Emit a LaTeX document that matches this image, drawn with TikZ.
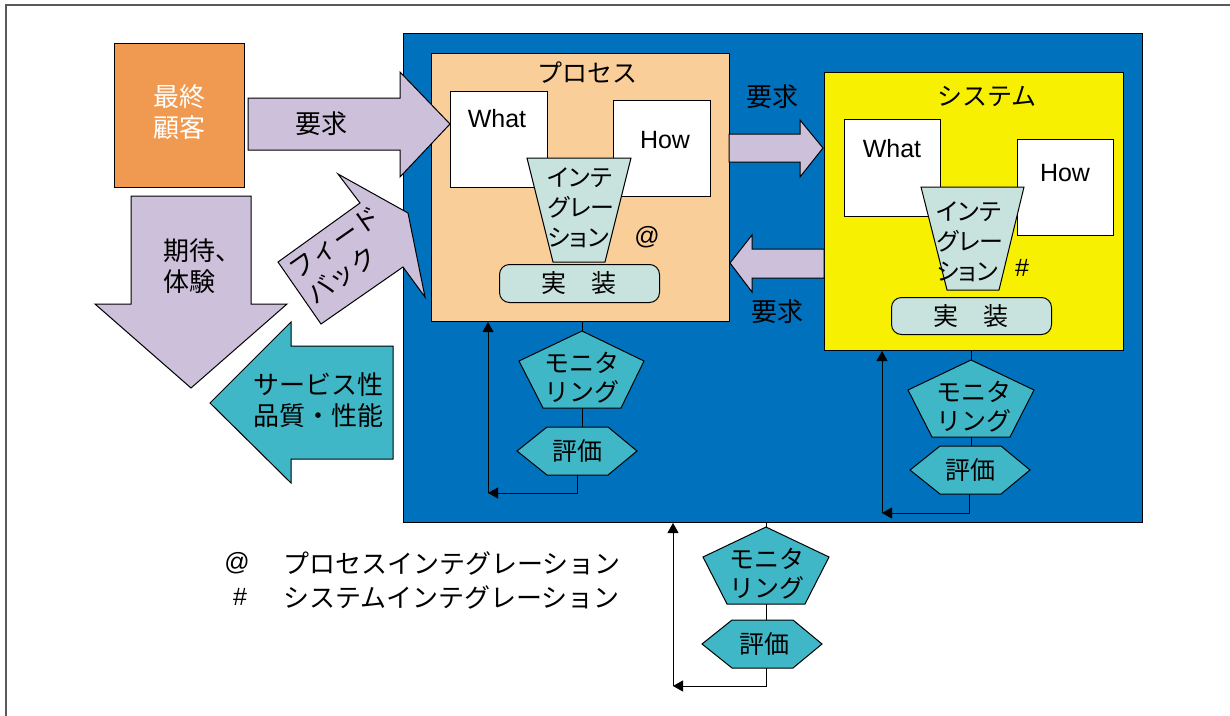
\documentclass[tikz,border=0pt]{standalone}
\usepackage{fontspec}
\setmainfont{Liberation Sans}
\newfontfamily\jp{Noto Sans CJK JP}
\newfontfamily\jpp[RawFeature=+palt]{Noto Sans CJK JP}
\usetikzlibrary{arrows.meta}
\definecolor{corange}{RGB}{240,153,80}
\definecolor{cpurple}{RGB}{204,192,218}
\definecolor{cteal}{RGB}{64,183,198}
\definecolor{cblue}{RGB}{0,113,188}
\definecolor{clorange}{RGB}{250,206,152}
\definecolor{cyellow}{RGB}{247,240,0}
\definecolor{clteal}{RGB}{200,227,221}
\begin{document}
\begin{tikzpicture}[x=1pt,y=-1pt,
  box/.style={draw=black, line width=1pt, anchor=north west, inner sep=0pt},
  jtxt/.style={font=\jp\fontsize{25}{29}\selectfont, align=center, inner sep=0pt},
  jbig/.style={font=\jp\fontsize{26}{31}\selectfont, align=center, inner sep=0pt},
  jsmall/.style={font=\jpp\fontsize{24}{30}\selectfont, align=left, inner sep=0pt},
  ltxt/.style={font=\fontsize{25}{29}\selectfont, inner sep=0pt},
  shapeline/.style={draw=black, line width=1pt, line join=miter},
  conn/.style={line width=1pt},
  loopar/.style={-{Triangle[length=10pt,width=11pt]}}]
\useasboundingbox (0,0) rectangle (1230,715);
\draw[line width=2pt, draw=black!65] (6,716) -- (6,5) -- (1231,5);

% organisation (blue)
\node[box, fill=cblue, minimum width=739pt, minimum height=489pt] (org) at (403,33) {};

% ---------- process ----------
\node[box, fill=clorange, minimum width=298pt, minimum height=268pt] (proc) at (431,53) {};
\node[jtxt] (proct) at (587,73) {プロセス};
\node[box, fill=white, minimum width=97pt, minimum height=96pt] (pwhat) at (450,91) {};
\node[ltxt] (pwhatt) at (497,119) {What};
\node[box, fill=white, minimum width=97pt, minimum height=96pt] (phow) at (613,100) {};
\node[ltxt] (phowt) at (665,140) {How};
\draw[shapeline, fill=clteal] (527,158) -- (631,158) -- (605,262) -- (553,262) -- cycle;
\node[jsmall] (pint) at (581,208) {インテ\\グレー\\ション};
\node[ltxt] (pat) at (647,237) {@};
\node[box, fill=clteal, rounded corners=10pt, minimum width=160pt, minimum height=38pt] (pimp) at (499,264) {};
\node[jtxt] (pimpt) at (579,283) {実　装};

\coordinate (p1top) at (582,331);
\coordinate (p1bot) at (582,408);
\coordinate (h1top) at (582,427);
\coordinate (h1bot) at (577,475);
\coordinate (l1) at (488,493);
\draw[conn] (p1top |- proc.south) -- (p1top);
\draw[shapeline, fill=cteal] (582,331) -- (644,361) -- (621,408) -- (543,408) -- (519,361) -- cycle;
\node[jtxt] (p1t) at (582,378) {モニタ\\リング};
\draw[conn] (p1bot) -- (h1top);
\draw[shapeline, fill=cteal] (517,451) -- (547,427) -- (608,427) -- (637,451) -- (608,475) -- (547,475) -- cycle;
\node[jtxt] (h1t) at (577,451) {評価};
\draw[conn, loopar] (h1bot) |- (l1);
\draw[conn, loopar] (l1) -- (l1 |- proc.south);

% ---------- system ----------
\node[box, fill=cyellow, minimum width=299pt, minimum height=278pt] (sys) at (824,72) {};
\node[jtxt] (syst) at (987,96) {システム};
\node[box, fill=white, minimum width=96pt, minimum height=97pt] (swhat) at (844,119) {};
\node[ltxt] (swhatt) at (892,149) {What};
\node[box, fill=white, minimum width=96pt, minimum height=96pt] (show) at (1017,139) {};
\node[ltxt] (showt) at (1065,173) {How};
\draw[shapeline, fill=clteal] (921,187) -- (1024,187) -- (999,290) -- (947,290) -- cycle;
\node[jsmall] (sint) at (970,242) {インテ\\グレー\\ション};
\node[ltxt] (shash) at (1022,268) {\#};
\node[box, fill=clteal, rounded corners=10pt, minimum width=160pt, minimum height=37pt] (simp) at (891,297) {};
\node[jtxt] (simpt) at (971,316) {実　装};

\coordinate (p2top) at (971,360);
\coordinate (p2bot) at (971,437);
\coordinate (h2top) at (971,446);
\coordinate (h2bot) at (969,494);
\coordinate (l2) at (882,513);
\draw[conn] (p2top |- sys.south) -- (p2top);
\draw[shapeline, fill=cteal] (971,360) -- (1034,390) -- (1010,437) -- (932,437) -- (908,390) -- cycle;
\node[jtxt] (p2t) at (974,407) {モニタ\\リング};
\draw[conn] (p2bot) -- (h2top);
\draw[shapeline, fill=cteal] (910,470) -- (940,446) -- (1001,446) -- (1030,470) -- (1001,494) -- (940,494) -- cycle;
\node[jtxt] (h2t) at (970,470) {評価};
\draw[conn, loopar] (h2bot) |- (l2);
\draw[conn, loopar] (l2) -- (l2 |- sys.south);

% requirement arrows between process and system
\draw[shapeline, fill=cpurple] (729,134) -- (800,134) -- (800,120) -- (823,148) -- (800,177) -- (800,162) -- (729,162) -- cycle;
\node[jbig] (req2) at (772,97) {要求};
\draw[shapeline, fill=cpurple] (824,249) -- (752,249) -- (752,235) -- (730,263) -- (752,292) -- (752,278) -- (824,278) -- cycle;
\node[jbig] (req3) at (777,312) {要求};

% ---------- bottom monitoring ----------
\coordinate (p3top) at (766,527);
\coordinate (p3bot) at (766,604);
\coordinate (h3top) at (766,620);
\coordinate (h3bot) at (766,668);
\coordinate (l3) at (673,686);
\draw[conn] (p3top |- org.south) -- (p3top);
\draw[shapeline, fill=cteal] (766,527) -- (829,557) -- (805,604) -- (727,604) -- (703,557) -- cycle;
\node[jtxt] (p3t) at (767,574) {モニタ\\リング};
\draw[conn] (p3bot) -- (h3top);
\draw[shapeline, fill=cteal] (702,644) -- (732,620) -- (793,620) -- (822,644) -- (793,668) -- (732,668) -- cycle;
\node[jtxt] (h3t) at (764,644) {評価};
\draw[conn, loopar] (h3bot) |- (l3);
\draw[conn, loopar] (l3) -- (l3 |- org.south);

% ---------- legend ----------
\node[ltxt] (lat) at (237,563) {@};
\node[jbig, anchor=west] (leg1) at (283,563) {プロセスインテグレーション};
\node[ltxt] (lhash) at (240,597) {\#};
\node[jbig, anchor=west] (leg2) at (283,597) {システムインテグレーション};

% ---------- customer side ----------
\node[box, fill=corange, minimum width=130pt, minimum height=144pt] (cust) at (114,43) {};
\node[jbig, text=white] (custt) at (179,112) {最終\\顧客};
\draw[shapeline, fill=cpurple] (248,98) -- (400,98) -- (400,72) -- (450,124) -- (400,177) -- (400,150) -- (248,150) -- cycle;
\node[jbig] (req1) at (321,124) {要求};
\draw[shapeline, fill=cpurple] (131,196) -- (251,196) -- (251,304) -- (287,304) -- (191,388) -- (95,304) -- (131,304) -- cycle;
\node[jbig, align=left] (expt) at (202,266) {期待、\\体験};
\draw[shapeline, fill=cteal] (393,346) -- (291,346) -- (291,322) -- (210,403) -- (291,483) -- (291,459) -- (393,459) -- cycle;
\node[jbig] (qual) at (318,400) {サービス性\\品質・性能};
\draw[shapeline, fill=cpurple] (278,262) -- (360,203) -- (338,174) -- (408,213) -- (425,297) -- (403,267) -- (321,324) -- cycle;
\node[jbig, align=left, rotate=35] (fb) at (344,256) {フィード\\バック};
\end{tikzpicture}
\end{document}
